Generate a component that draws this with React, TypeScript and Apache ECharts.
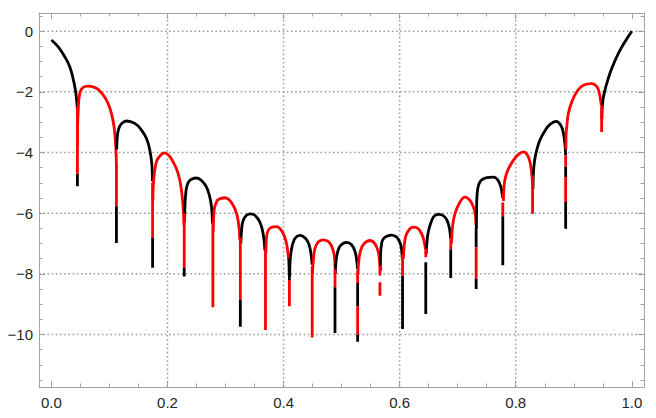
import React, { useEffect, useRef } from 'react';
import * as echarts from 'echarts';

const X_MIN = -0.0214;
const X_MAX = 1.021;
const Y_MIN = -11.73;
const Y_MAX = 0.6;

const X_MAJOR = [0, 0.2, 0.4, 0.6, 0.8, 1.0];
const X_MINOR = [0.05, 0.1, 0.15, 0.25, 0.3, 0.35, 0.45, 0.5, 0.55, 0.65, 0.7, 0.75, 0.85, 0.9, 0.95];
const Y_MAJOR = [0, -2, -4, -6, -8, -10];
const Y_MINOR = [0.5, -0.5, -1, -1.5, -2.5, -3, -3.5, -4.5, -5, -5.5, -6.5, -7, -7.5, -8.5, -9, -9.5, -10.5, -11, -11.5];
const X_GRID = [0.2, 0.4, 0.6, 0.8];
const Y_GRID = [0, -2, -4, -6, -8, -10];

// Lobes of the curve: [x, y]
const lobe0 = [[0, -0.29], [0.0114, -0.51], [0.023, -0.84], [0.0316, -1.17], [0.0372, -1.55], [0.0413, -1.94], [0.0436, -2.3], [0.0448, -2.6]];
const lobe1 = [[0.0448, -3.8], [0.0452, -3.1], [0.0459, -2.71], [0.0488, -2.05], [0.0545, -1.85], [0.0631, -1.81], [0.0776, -1.88], [0.089, -2.1], [0.0976, -2.38], [0.1034, -2.71], [0.1079, -3.15], [0.1109, -3.81], [0.112, -4.5]];
const lobe2 = [[0.1125, -3.9], [0.113, -3.62], [0.114, -3.4], [0.1158, -3.23], [0.1185, -3.11], [0.1224, -3.02], [0.1293, -2.96], [0.1436, -3.04], [0.1552, -3.26], [0.1638, -3.54], [0.1695, -3.92], [0.1729, -4.36], [0.1741, -4.95]];
const lobe3 = [[0.1748, -5.6], [0.1752, -5.24], [0.1762, -4.9], [0.1781, -4.59], [0.182, -4.25], [0.1897, -4.06], [0.195, -4.01], [0.2025, -4.1], [0.2097, -4.31], [0.2183, -4.69], [0.2241, -5.25], [0.2269, -5.8], [0.2286, -6.4]];
const lobe4 = [[0.2294, -6.3], [0.23, -5.8], [0.2312, -5.4], [0.2332, -5.12], [0.2365, -4.96], [0.2414, -4.88], [0.25, -4.84], [0.2586, -4.92], [0.2672, -5.14], [0.2729, -5.47], [0.2759, -5.8], [0.2776, -6.35]];
const lobe5 = [[0.2787, -6.6], [0.2798, -6.02], [0.281, -5.82], [0.2833, -5.69], [0.2872, -5.55], [0.2988, -5.49], [0.3074, -5.58], [0.316, -5.85], [0.3217, -6.24], [0.3247, -6.9]];
const lobe6 = [[0.3264, -7.0], [0.3276, -6.57], [0.3303, -6.24], [0.3362, -6.07], [0.3431, -6.02], [0.3505, -6.07], [0.3591, -6.29], [0.3648, -6.68], [0.3678, -7.23]];
const lobe7 = [[0.3695, -7.3], [0.3707, -6.79], [0.3735, -6.57], [0.3785, -6.47], [0.388, -6.44], [0.3955, -6.55], [0.4022, -6.8], [0.4062, -7.12], [0.4086, -7.55], [0.4097, -8.0]];
const lobe8 = [[0.4105, -8.1], [0.4112, -7.6], [0.4138, -7.17], [0.4178, -6.9], [0.4228, -6.77], [0.4281, -6.73], [0.4384, -6.84], [0.4442, -7.06], [0.4476, -7.4], [0.4492, -7.7]];
const lobe9 = [[0.4498, -8.0], [0.451, -7.62], [0.454, -7.17], [0.4597, -6.95], [0.4683, -6.88], [0.478, -6.95], [0.4845, -7.17], [0.488, -7.5], [0.4886, -7.8]];
const lobe10 = [[0.4892, -8.0], [0.4902, -7.62], [0.4931, -7.28], [0.4983, -7.06], [0.5086, -6.96], [0.5172, -7.04], [0.5234, -7.28], [0.5264, -7.62], [0.5274, -7.85]];
const lobe11 = [[0.5283, -8.0], [0.5293, -7.62], [0.5328, -7.23], [0.5384, -7.01], [0.5488, -6.9], [0.5574, -7.01], [0.5631, -7.28], [0.5655, -7.62], [0.566, -7.75]];
const lobe12 = [[0.5668, -7.9], [0.5672, -7.3], [0.569, -7.0], [0.5717, -6.85], [0.578, -6.76], [0.5862, -6.72], [0.5935, -6.77], [0.5976, -6.86], [0.6022, -7.06], [0.604, -7.34], [0.6045, -7.5]];
const lobe13 = [[0.6065, -7.5], [0.6074, -7.17], [0.6109, -6.73], [0.6178, -6.51], [0.6234, -6.46], [0.6321, -6.51], [0.639, -6.73], [0.6424, -6.95], [0.6446, -7.2]];
const lobe14 = [[0.6458, -7.35], [0.6466, -7.06], [0.6493, -6.62], [0.6552, -6.24], [0.6609, -6.07], [0.6683, -6.04], [0.6781, -6.13], [0.6838, -6.35], [0.6867, -6.62], [0.6879, -6.84]];
const lobe15 = [[0.6892, -7.0], [0.6897, -6.84], [0.6914, -6.4], [0.6953, -6.02], [0.704, -5.63], [0.7126, -5.47], [0.7212, -5.58], [0.727, -5.8], [0.7305, -6.07], [0.7314, -6.4]];
const lobe16 = [[0.7322, -6.5], [0.7326, -5.8], [0.7332, -5.45], [0.7345, -5.2], [0.737, -5.02], [0.7414, -4.9], [0.75, -4.83], [0.7614, -4.81], [0.7665, -4.85], [0.77, -4.93], [0.7735, -5.08], [0.7758, -5.25], [0.7772, -5.5]];
const lobe17 = [[0.7788, -5.6], [0.7793, -5.25], [0.7805, -5.0], [0.7831, -4.76], [0.7876, -4.53], [0.7962, -4.25], [0.8048, -4.06], [0.8134, -3.98], [0.8203, -4.09], [0.825, -4.36], [0.8275, -4.69], [0.829, -5.0]];
const lobe18 = [[0.8298, -5.2], [0.8303, -4.75], [0.8315, -4.42], [0.8335, -4.15], [0.8362, -3.92], [0.8419, -3.58], [0.8505, -3.28], [0.8591, -3.07], [0.8695, -2.97], [0.8776, -3.1], [0.8822, -3.37], [0.8851, -3.81], [0.886, -4.1]];
const lobe19 = [[0.8864, -3.9], [0.8867, -3.45], [0.8871, -3.28], [0.8879, -3.15], [0.8907, -2.71], [0.8966, -2.33], [0.9052, -2.0], [0.9166, -1.78], [0.931, -1.73], [0.9397, -1.83], [0.9441, -2.05], [0.9466, -2.33], [0.9475, -2.45]];
const lobe20 = [[0.9484, -2.9], [0.9488, -2.6], [0.9496, -2.4], [0.951, -2.18], [0.9535, -1.96], [0.9569, -1.72], [0.9655, -1.22], [0.9769, -0.73], [0.9885, -0.34], [1.0, 0.0]];

const lobes = [lobe0, lobe1, lobe2, lobe3, lobe4, lobe5, lobe6, lobe7, lobe8, lobe9, lobe10,
  lobe11, lobe12, lobe13, lobe14, lobe15, lobe16, lobe17, lobe18, lobe19, lobe20];

// Vertical dips at the zeros: x and coloured pieces [top, bottom, colour(0 black, 1 red)]
const dipX = [0.0448, 0.112, 0.1743, 0.2288, 0.2782, 0.3255, 0.3688, 0.41, 0.4493, 0.4886,
  0.5276, 0.566, 0.605, 0.645, 0.688, 0.7318, 0.7777, 0.829, 0.886, 0.948];
const dipParts = [
  [[-2.5, -4.7, 1], [-4.7, -5.11, 0]],
  [[-4.4, -5.77, 1], [-5.77, -6.98, 0]],
  [[-5.0, -6.82, 1], [-6.82, -7.8, 0]],
  [[-6.0, -7.8, 1], [-7.8, -8.09, 0]],
  [[-6.3, -9.1, 1]],
  [[-6.8, -8.86, 1], [-8.86, -9.74, 0]],
  [[-7.2, -9.85, 1]],
  [[-7.5, -8.2, 0], [-8.2, -9.07, 1]],
  [[-7.75, -10.1, 1]],
  [[-7.85, -8.44, 1], [-8.44, -9.95, 0]],
  [[-7.9, -8.3, 1], [-8.3, -9.07, 0], [-9.07, -10.0, 1], [-10.0, -10.24, 0]],
  [[-7.72, -8.05, 1], [-8.28, -8.72, 1]],
  [[-7.35, -8.06, 1], [-8.06, -9.82, 0]],
  [[-7.17, -7.45, 1], [-7.62, -9.32, 0]],
  [[-6.84, -7.2, 1], [-7.2, -8.14, 0]],
  [[-6.46, -7.12, 0], [-7.12, -8.17, 1], [-8.17, -8.5, 0]],
  [[-5.35, -5.5, 1], [-5.65, -6.1, 1], [-6.1, -7.72, 0]],
  [[-4.75, -6.02, 1]],
  [[-4.1, -4.47, 1], [-4.47, -4.81, 0], [-4.81, -5.63, 1], [-5.63, -6.51, 0]],
  [[-2.45, -3.32, 1]],
];

const COLORS = ['#000000', '#ff0000'];
const FRAME = '#a3a3a3';
const GRID_COLOR = '#9c9c9c';
const LABEL_COLOR = '#262626';
const FONT = "'Liberation Sans', Arial, sans-serif";
const LW = 2.8;

const fmtX = (v: number) => v.toFixed(1);
const fmtY = (v: number) => (v < 0 ? '\u2212' + Math.abs(v) : String(v));

function xAxisDef(position: 'bottom' | 'top', major: boolean) {
  return {
    type: 'value', min: X_MIN, max: X_MAX, position,
    axisLine: { show: major, onZero: false, lineStyle: { color: FRAME, width: 1 } },
    axisTick: { show: true, inside: true, length: major ? 6 : 3.5, customValues: major ? X_MAJOR : X_MINOR, lineStyle: { color: FRAME, width: 1 } },
    axisLabel: position === 'bottom' && major
      ? { show: true, customValues: X_MAJOR, formatter: fmtX, margin: 8, color: LABEL_COLOR, fontSize: 15, fontFamily: FONT }
      : { show: false },
    splitLine: { show: false },
  };
}
function yAxisDef(position: 'left' | 'right', major: boolean) {
  return {
    type: 'value', min: Y_MIN, max: Y_MAX, position,
    axisLine: { show: major, onZero: false, lineStyle: { color: FRAME, width: 1 } },
    axisTick: { show: true, inside: true, length: major ? 6 : 3.5, customValues: major ? Y_MAJOR : Y_MINOR, lineStyle: { color: FRAME, width: 1 } },
    axisLabel: position === 'left' && major
      ? { show: true, customValues: Y_MAJOR, formatter: fmtY, margin: 6, color: LABEL_COLOR, fontSize: 15, fontFamily: FONT }
      : { show: false },
    splitLine: { show: false },
  };
}

export default function App() {
  const ref = useRef<HTMLDivElement>(null);
  useEffect(() => {
    if (!ref.current) return;
    const chart = echarts.init(ref.current, undefined, { renderer: 'svg' });
    const series: any[] = [];
    X_GRID.forEach((x) => series.push({
      type: 'line', data: [[x, Y_MIN], [x, Y_MAX]], symbol: 'none', silent: true, z: 1,
      lineStyle: { color: GRID_COLOR, width: 1.5, type: [1.6, 2.6] },
    }));
    Y_GRID.forEach((y) => series.push({
      type: 'line', data: [[X_MIN, y], [X_MAX, y]], symbol: 'none', silent: true, z: 1,
      lineStyle: { color: GRID_COLOR, width: 1.5, type: [1.6, 2.6] },
    }));
    lobes.forEach((pts, i) => series.push({
      type: 'line', data: pts, symbol: 'none', smooth: 0.45, silent: true, z: 3,
      lineStyle: { color: COLORS[i % 2], width: LW, cap: 'butt', join: 'round' },
    }));
    dipX.forEach((x, i) => {
      dipParts[i].forEach(([top, bot, c]) => series.push({
        type: 'line', data: [[x, top], [x, bot]], symbol: 'none', silent: true, z: 4,
        lineStyle: { color: COLORS[c], width: LW, cap: 'butt' },
      }));
    });
    chart.setOption({
      animation: false,
      grid: { left: 39, right: 12, top: 13, bottom: 31, containLabel: false, outerBoundsMode: 'none' },
      xAxis: [xAxisDef('bottom', true), xAxisDef('bottom', false), xAxisDef('top', true), xAxisDef('top', false)],
      yAxis: [yAxisDef('left', true), yAxisDef('left', false), yAxisDef('right', true), yAxisDef('right', false)],
      series,
    });
    return () => chart.dispose();
  }, []);
  return (
    <div
      ref={ref}
      style={{ position: 'fixed', left: 0, top: 0, width: 656, height: 418, background: '#ffffff' }}
    />
  );
}
